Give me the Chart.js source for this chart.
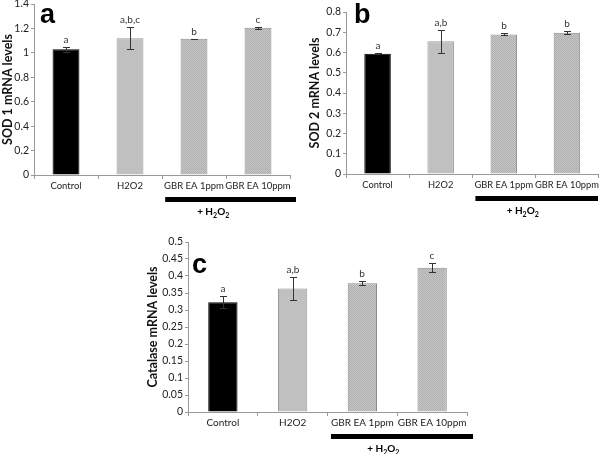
<!DOCTYPE html>
<html>
<head>
<meta charset="utf-8">
<script src="https://cdn.jsdelivr.net/npm/chart.js@4.4.1/dist/chart.umd.min.js"></script>
<style>
  body { margin: 0; background: #fff; }
  #wrap { position: relative; width: 600px; height: 454px; overflow: hidden; background: #fff; }
  canvas { position: absolute; }
</style>
</head>
<body>
<div id="wrap">
  <canvas id="chartA" width="300" height="225" style="left:0;top:0"></canvas>
  <canvas id="chartB" width="300" height="225" style="left:300px;top:0"></canvas>
  <canvas id="chartC" width="340" height="226" style="left:140px;top:228px"></canvas>
</div>
<script>
// data
const categories = ['Control', 'H2O2', 'GBR EA 1ppm', 'GBR EA 10ppm'];

const sod1Values = [1.03, 1.12, 1.115, 1.205];
const sod1Errors = [0.02, 0.09, 0.002, 0.007];
const sod1Letters = ['a', 'a,b,c', 'b', 'c'];

const sod2Values = [0.594, 0.655, 0.689, 0.698];
const sod2Errors = [0.002, 0.058, 0.005, 0.008];
const sod2Letters = ['a', 'a,b', 'b', 'b'];

const catValues = [0.323, 0.363, 0.379, 0.424];
const catErrors = [0.018, 0.035, 0.005, 0.013];
const catLetters = ['a', 'a,b', 'b', 'c'];

const FONT = 'Lato, "Liberation Sans", sans-serif';

// stippled grey fill for the GBR EA bars
function dotPattern() {
  const c = document.createElement('canvas');
  c.width = 2; c.height = 2;
  const g = c.getContext('2d');
  g.fillStyle = '#c8c8c8';
  g.fillRect(0, 0, 2, 2);
  g.fillStyle = '#adadad';
  g.fillRect(0, 0, 1, 1);
  g.fillRect(1, 1, 1, 1);
  return g.createPattern(c, 'repeat');
}
const pattern = dotPattern();

const annotate = {
  id: 'annotate',
  afterDatasetsDraw(chart, args, opts) {
    const ctx = chart.ctx;
    const y = chart.scales.y;
    const meta = chart.getDatasetMeta(0);
    ctx.save();
    ctx.strokeStyle = '#333';
    ctx.lineWidth = 1;
    opts.values.forEach((v, i) => {
      const cx = Math.round(meta.data[i].x);
      const top = Math.round(y.getPixelForValue(v + opts.errors[i]));
      const bot = Math.round(y.getPixelForValue(v - opts.errors[i]));
      ctx.beginPath();
      ctx.moveTo(cx + 0.5, top); ctx.lineTo(cx + 0.5, bot);
      ctx.moveTo(cx - 3, top + 0.5); ctx.lineTo(cx + 4, top + 0.5);
      ctx.moveTo(cx - 3, bot + 0.5); ctx.lineTo(cx + 4, bot + 0.5);
      ctx.stroke();
      ctx.fillStyle = '#333';
      ctx.font = '10px ' + FONT;
      ctx.textAlign = 'center';
      ctx.textBaseline = 'alphabetic';
      ctx.fillText(opts.letters[i], cx, top - 4);
    });
    ctx.restore();
  },
  afterDraw(chart, args, opts) {
    const ctx = chart.ctx;
    const x = chart.scales.x;
    const area = chart.chartArea;
    const cat = (x.right - x.left) / categories.length;
    ctx.save();
    // panel letter
    ctx.fillStyle = '#000';
    ctx.font = 'bold 27px "Liberation Sans", Arial, sans-serif';
    ctx.textAlign = 'left';
    ctx.textBaseline = 'alphabetic';
    ctx.fillText(opts.panel, opts.panelX, opts.panelY);
    // black bar under the treated groups
    const x0 = x.getPixelForValue(2) - cat * 0.45;
    const x1 = Math.min(area.right + 6, chart.width - 2);
    const by = area.bottom + 22;
    ctx.fillRect(x0, by, x1 - x0, 5);
    // + H2O2 label with subscripts
    const tx = x.getPixelForValue(2) + cat * 0.3;
    const ty = area.bottom + 40;
    const parts = [['+ H', 10, 0], ['2', 7, 3], ['O', 10, 0], ['2', 7, 3]];
    let w = 0;
    parts.forEach(p => { ctx.font = 'bold ' + p[1] + 'px ' + FONT; w += ctx.measureText(p[0]).width; });
    let px = tx - w / 2;
    parts.forEach(p => {
      ctx.font = 'bold ' + p[1] + 'px ' + FONT;
      ctx.fillText(p[0], px, ty + p[2]);
      px += ctx.measureText(p[0]).width;
    });
    ctx.restore();
  }
};

function makePanel(id, values, errors, letters, yMax, yStep, yTitle, geo) {
  new Chart(document.getElementById(id), {
    type: 'bar',
    data: {
      labels: categories,
      datasets: [{
        data: values,
        backgroundColor: ['#000000', '#c0c0c0', pattern, pattern],
        borderColor: ['#000000', '#999999', '#8a8a8a', '#8a8a8a'],
        borderWidth: 1,
        categoryPercentage: 1,
        barPercentage: 0.42
      }]
    },
    options: {
      responsive: false,
      animation: false,
      layout: { padding: { left: 0, right: geo.right, top: geo.top, bottom: 0 } },
      plugins: {
        legend: { display: false },
        tooltip: { enabled: false },
        annotate: {
          values: values, errors: errors, letters: letters,
          panel: geo.panel, panelX: geo.panelX, panelY: geo.panelY
        }
      },
      scales: {
        x: {
          grid: { display: true, drawOnChartArea: false, drawTicks: true, tickLength: 4, color: '#999' },
          border: { color: '#999' },
          ticks: { color: '#222', font: { family: FONT, size: geo.xFont }, padding: 1, maxRotation: 0, autoSkip: false },
          afterFit: s => { s.height = geo.xHeight; }
        },
        y: {
          min: 0, max: yMax,
          grid: { display: true, drawOnChartArea: false, drawTicks: true, tickLength: 3, color: '#999' },
          border: { color: '#999' },
          ticks: {
            stepSize: yStep, color: '#222', font: { family: FONT, size: 10.5 }, padding: 2,
            callback: v => String(+v.toFixed(2))
          },
          title: {
            display: true, text: yTitle, color: '#111',
            font: { family: FONT, size: 12.5, weight: 'bold' },
            padding: { top: geo.titlePad, bottom: 0 }
          },
          afterFit: s => { s.width = geo.yWidth; s.paddingTop = 0; s.paddingBottom = 0; }
        }
      }
    },
    plugins: [annotate]
  });
}

makePanel('chartA', sod1Values, sod1Errors, sod1Letters, 1.4, 0.2, 'SOD 1 mRNA levels',
  { yWidth: 34, xHeight: 50, top: 4, right: 10, titlePad: 0, xFont: 9.5, panel: 'a', panelX: 40, panelY: 23 });
makePanel('chartB', sod2Values, sod2Errors, sod2Letters, 0.8, 0.1, 'SOD 2 mRNA levels',
  { yWidth: 46, xHeight: 51, top: 12, right: 1, titlePad: 7, xFont: 9.3, panel: 'b', panelX: 54, panelY: 23 });
makePanel('chartC', catValues, catErrors, catLetters, 0.5, 0.05, 'Catalase mRNA levels',
  { yWidth: 48, xHeight: 42, top: 14, right: 13, titlePad: 5, xFont: 10, panel: 'c', panelX: 52, panelY: 45 });
</script>
</body>
</html>
